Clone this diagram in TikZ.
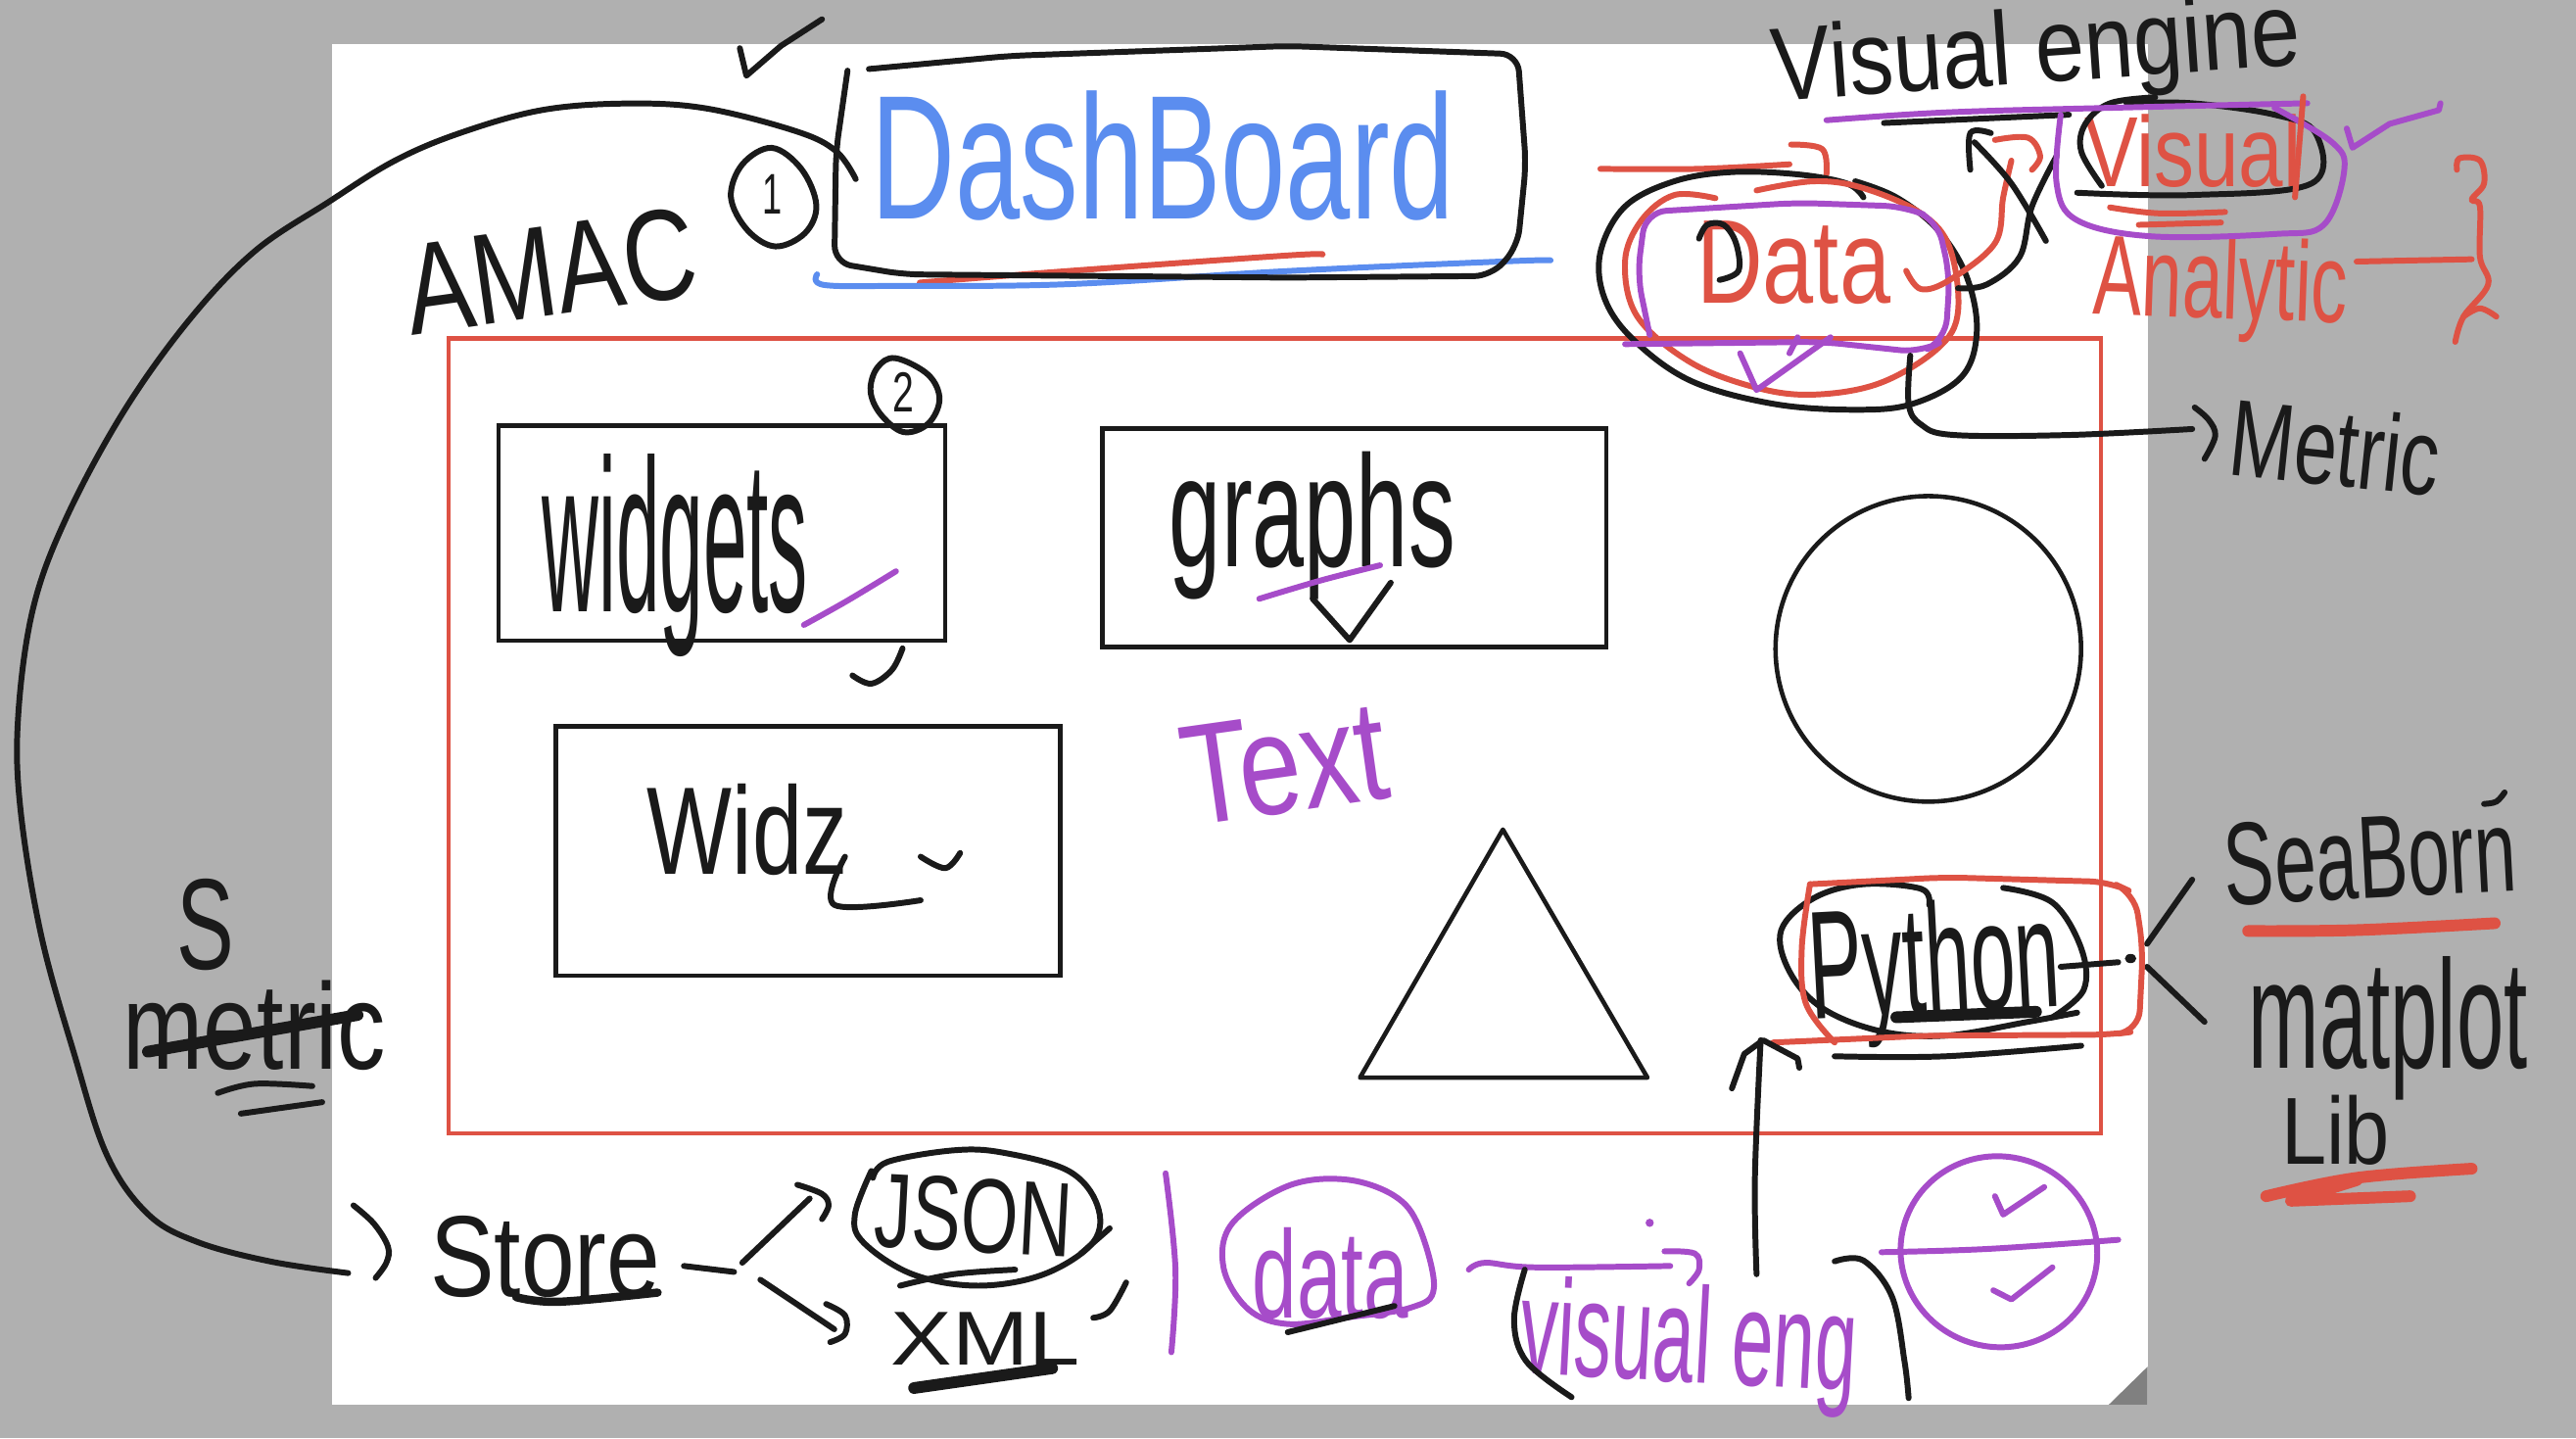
\documentclass[tikz,border=0pt]{standalone}
\usepackage{fontspec}
\setmainfont{Liberation Sans}
\definecolor{inkk}{HTML}{1A1A1A}
\definecolor{redd}{HTML}{DE5244}
\definecolor{purp}{HTML}{A64CC9}
\definecolor{blu}{HTML}{5B8DEF}
\definecolor{bgg}{HTML}{B0B0B0}
\definecolor{fold}{HTML}{808080}
\newlength\Un \setlength\Un{.016773cm}
\newcommand\hwfit[3]{\resizebox{#1\Un}{#2\Un}{#3}}
\newcommand\sk[2]{\draw[#1] plot[smooth,tension=.6] coordinates {#2};}
\newcommand\skc[2]{\draw[#1] plot[smooth cycle,tension=.6] coordinates {#2};}
\newcommand\pl[2]{\draw[#1] plot[sharp plot] coordinates {#2};}
\tikzset{
  base/.style={x=.016773cm,y=-.016773cm},
  q1/.style={x=.0083865cm,y=-.0046797cm},
  q2/.style={q1,xshift=13.15cm},
  q3/.style={q1,yshift=-7.34cm},
  q4/.style={q1,xshift=13.15cm,yshift=-7.34cm},
  pen/.style={line cap=round,line join=round,line width=1.7pt},
  bk/.style={pen,draw=inkk},
  rd/.style={pen,draw=redd},
  pu/.style={pen,draw=purp},
  bl/.style={pen,draw=blu},
  fat/.style={line width=3.4pt},
  box/.style={draw=inkk,line width=1.3pt,inner sep=0pt,fill=none},
  txt/.style={inner sep=0pt,text=#1},
}
\begin{document}
\begin{tikzpicture}
\useasboundingbox (0,0) rectangle (26.3,-14.68);
\fill[bgg] (0,0) rectangle (26.3,-14.68);
\begin{scope}[base]
\fill[white] (202,27) rectangle (1307.5,855);
\fill[fold] (1307.5,832) -- (1284,855) -- (1307.5,855) -- cycle;
% frames and shapes
\node[draw=redd,line width=1.3pt,inner sep=0pt,minimum width=1006\Un,minimum height=484\Un] (frame) at (776,448) {};
\node[box,minimum width=272\Un,minimum height=131\Un] (wbox) at (439.5,324.5) {};
\node[box,minimum width=307\Un,minimum height=133\Un] (gbox) at (824.5,327.5) {};
\node[box,minimum width=307\Un,minimum height=152\Un] (zbox) at (492,518) {};
\node[draw=inkk,line width=1.3pt,circle,inner sep=0pt,minimum size=186\Un] (circ) at (1174,395) {};
\coordinate (ta) at (915,505);
\coordinate (tb) at (828,656);
\coordinate (tc) at (1003,656);
\draw[draw=inkk,line width=1.3pt,line join=round] (ta) -- (tb) -- (tc) -- cycle;
% dashboard
\sk{rd}{(560,172)(650,165)(784,155.5)(805,155)}
\sk{bl}{(497.5,167)(502,173.5)(550,174)(650,173)(784,165)(919,159)(944,158.5)}
\node[txt=blu] (dash) at (708,95) {\hwfit{355}{78}{DashBoard}};
\draw[bk,rounded corners=5pt] (529,42) -- (615,34) -- (784,28) -- (924,33) -- (929,100) -- (924,150) -- (908,168) -- (784,169) -- (550,167) -- (508,160) -- (509,92) -- (516,43);
% long connector
\coordinate (dashIn) at (521,109);
\coordinate (storeOut) at (212,775);
\sk{bk}{(dashIn)(509,92)(485,80)(430,66)(382,63)(330,67)(280,81)(240,98)(200,123)(155,153)(115,195)(75,251)(40,316)(20,371)(11,437)(12.5,493)(25,569)(45,641)(65,703)(90,739)(120,756)(165,768)(storeOut)}
\node[txt=inkk,rotate=8] (amac) at (335,165) {\hwfit{178}{55}{AMAC}};
\skc{bk}{(470,90)(488,103)(497,125)(490,142)(472,150)(455,140)(445,120)(452,100)}
\node[txt=inkk] (one) at (470,118) {\hwfit{12}{24}{1}};
\skc{bk}{(545,218)(565,228)(572,243)(565,258)(550,263)(536,252)(530,238)(534,224)}
\node[txt=inkk] (two) at (550,239) {\hwfit{13}{24}{2}};
\node[txt=inkk] (widgets) at (411,338) {\hwfit{162}{96}{widgets}};
\node[txt=inkk] (graphs) at (799,320) {\hwfit{174}{70}{graphs}};
\node[txt=inkk] (widz) at (455,505) {\hwfit{122}{55}{Widz}};
\node[txt=purp,rotate=8] (text) at (782,465) {\hwfit{125}{60}{Text}};
\node[txt=redd] (data) at (1092,160) {\hwfit{118}{50}{Data}};
\node[txt=redd] (visual) at (1335,92) {\hwfit{132}{44}{Visual}};
\node[txt=redd,rotate=-2] (analytic) at (1352,176) {\hwfit{155}{50}{Analytic}};
\node[txt=inkk,rotate=4] (vengine) at (1240,34) {\hwfit{322}{46}{Visual engine}};
\node[txt=inkk,rotate=-6] (metric) at (1422,272) {\hwfit{128}{48}{Metric}};
\node[txt=inkk,rotate=3] (python) at (1178,592) {\hwfit{153}{68}{Python}};
\node[txt=inkk,rotate=3] (seaborn) at (1443,522) {\hwfit{178}{50}{SeaBorn}};
\node[txt=inkk] (matplot) at (1454,626) {\hwfit{170}{68}{matplot}};
\node[txt=inkk] (lib) at (1422,688) {\hwfit{66}{42}{Lib}};
\node[txt=inkk] (ess) at (125,563) {\hwfit{35}{55}{S}};
\node[txt=inkk] (metric2) at (155,624) {\hwfit{160}{54}{metric}};
\node[txt=inkk] (store) at (332,765) {\hwfit{140}{49}{Store}};
\node[txt=inkk,rotate=-3] (json) at (593,740) {\hwfit{120}{45}{JSON}};
\node[txt=inkk] (xml) at (600,815) {\hwfit{115}{32}{XML}};
\node[txt=purp] (datab) at (810,775) {\hwfit{95}{55}{data}};
\node[txt=purp,rotate=-3] (veng) at (1028,820) {\hwfit{205}{60}{visual eng}};
\skc{pu}{(784,722)(819,718)(849,728)(864,747)(873,784)(859,796)(820,802)(784,806)(760,797)(745,772)(750,745)}
\sk{bk}{(784,811)(849,795)}
\draw[pu,rotate around={75:(1217,762)}] (1217,762) ellipse (58 and 60);
\end{scope}
% top-left quadrant
\begin{scope}[q1]
\pl{bk}{(900,105)(908,165)(950,100)(1000,42)}
\sk{pu}{(978,1362)(1030,1310)(1090,1245)}
\sk{bk}{(1098,1413)(1085,1460)(1060,1490)(1037,1472)}
\end{scope}
% top-right quadrant
\begin{scope}[q2]
\sk{pu}{(-35,1305)(40,1265)(112,1232)}
\pl{bk}{(30,1305)(75,1395)(125,1270)}
\sk{rd}{(380,368)(500,368)(610,358)}
\sk{rd}{(612,315)(650,325)(655,380)}
\sk{bk}{(700,430)(680,400)(620,380)(540,375)(470,395)(410,450)(380,550)(385,650)(420,740)(490,830)(590,880)(690,893)(760,880)(820,820)(838,720)(825,600)(790,500)(740,430)(690,395)}
\sk{rd}{(520,432)(470,425)(430,480)(410,570)(425,690)(490,790)(570,845)(640,860)(720,835)(790,760)(815,680)(805,540)(770,465)(700,410)(640,395)(570,415)}
\sk{bk}{(500,520)(510,490)(530,490)(545,530)(548,590)(525,610)}
\draw[pu,rounded corners=6pt] (440,730) -- (425,600) -- (435,462) -- (620,442) -- (750,450) -- (790,480) -- (805,600) -- (800,740) -- (770,768) -- (650,745) -- (410,750);
\pl{pu}{(550,770)(570,850)(660,735)}
\pl{pu}{(620,735)(610,770)}
\sk{bk}{(757,775)(755,880)(770,925)(810,948)(950,948)(1100,935)}
\sk{bk}{(1103,888)(1120,915)(1128,950)(1115,1000)}
\sk{rd}{(752,590)(770,630)(805,610)(860,530)(870,430)(880,350)}
\sk{rd}{(860,305)(900,300)(915,340)(905,370)}
\sk{bk}{(815,628)(850,620)(890,560)(905,450)(935,340)}
\sk{bk}{(922,525)(880,400)(835,310)}
\sk{bk}{(830,370)(830,290)(855,290)}
\sk{bk}{(725,268)(950,250)}
\sk{bk}{(1055,212)(1000,225)(970,270)(965,330)(990,405)}
\sk{bk}{(1020,225)(1100,225)(1200,250)(1250,290)(1245,400)(1100,425)(960,420)}
\sk{pu}{(655,262)(800,245)(1000,235)(1240,225)}
\sk{pu}{(940,250)(935,400)(960,480)(1050,515)(1200,510)(1260,490)(1285,370)(1270,310)(1200,235)}
\pl{pu}{(1288,280)(1295,322)(1340,270)(1400,240)(1402,225)}
\sk{rd}{(1000,452)(1060,465)(1140,462)}
\sk{rd}{(1035,490)(1135,485)}
\sk{rd}{(1225,430)(1235,210)}
\sk{rd}{(1300,570)(1440,565)}
\sk{rd}{(1422,370)(1425,345)(1450,350)(1455,400)(1440,435)(1450,450)(1450,560)(1460,620)(1430,690)(1420,745)}
\sk{rd}{(1430,690)(1450,672)(1470,690)}
\end{scope}
% bottom-left quadrant
\begin{scope}[q3]
\sk{bk}{(1028,300)(1015,405)(1120,395)}
\sk{bk}{(1120,300)(1150,325)(1168,292)}
\sk{bk,fat}{(180,725)(435,645)}
\sk{bk}{(265,815)(310,795)(380,800)}
\sk{bk}{(293,860)(392,835)}
\sk{bk}{(430,1060)(455,1100)(472,1150)(470,1185)(457,1218)}
\sk{bk}{(832,1192)(893,1205)}
\sk{bk,line width=2.4pt}{(628,1260)(680,1270)(800,1250)}
\sk{bk}{(903,1185)(985,1045)}
\sk{bk}{(970,1015)(1000,1035)(1008,1060)(1000,1090)}
\sk{bk}{(925,1222)(1015,1330)}
\sk{bk}{(1005,1275)(1028,1300)(1028,1340)(1010,1358)}
\sk{bk}{(1060,985)(1040,1080)(1050,1140)(1110,1210)(1190,1235)(1270,1210)(1330,1140)(1335,1060)(1300,985)(1220,945)(1160,940)(1080,965)(1062,1000)}
\sk{bk}{(1095,1235)(1160,1210)(1235,1200)}
\sk{bk}{(1315,1165)(1350,1110)}
\sk{bk}{(1330,1305)(1350,1290)(1370,1228)}
\sk{bk,fat}{(1112,1458)(1280,1415)}
\sk{pu}{(1418,990)(1430,1200)(1425,1380)}
\end{scope}
% bottom-right quadrant
\begin{scope}[q4]
\sk{bk}{(780,405)(770,370)(700,360)(640,390)(600,460)(610,550)(650,630)(720,680)(800,690)(900,660)(960,640)}
\sk{bk}{(870,368)(930,400)(965,500)(968,590)(930,650)}
\sk{bk}{(940,540)(1010,530)}
\fill[inkk] (1025,522) ellipse (7 and 10);
\sk{bk}{(1045,490)(1100,350)}
\sk{bk}{(1045,540)(1115,660)}
\sk{bk,fat}{(740,650)(910,638)}
\sk{bk}{(665,735)(800,735)(965,712)}
\sk{rd}{(665,705)(630,620)(625,500)(635,360)}
\draw[rd,rounded corners=6pt] (635,360) -- (800,345) -- (1000,355) -- (1030,380) -- (1040,500) -- (1035,680) -- (1000,688) -- (780,690) -- (590,705);
\sk{bk}{(570,1210)(568,1000)(575,700)}
\pl{bk}{(540,805)(555,730)(578,700)(620,740)(622,760)}
\sk{rd,fat}{(1168,462)(1300,460)(1468,445)}
\sk{bk}{(1455,185)(1470,180)(1480,160)}
\sk{rd,fat}{(1190,1040)(1300,1000)(1440,980)}
\pl{rd,fat}{(1300,1005)(1220,1050)(1365,1040)}
\sk{pu}{(722,1162)(850,1155)(1010,1135)}
\pl{pu}{(860,1040)(870,1080)(920,1020)}
\pl{pu}{(858,1245)(880,1265)(930,1195)}
\sk{pu}{(220,1200)(240,1185)(300,1195)(465,1192)}
\sk{pu}{(458,1160)(495,1165)(500,1200)(488,1230)}
\fill[purp] (440,1098) ellipse (5 and 9);
\sk{bk}{(288,1200)(275,1310)(290,1400)(345,1478)}
\sk{bk}{(665,1182)(700,1180)(735,1260)(750,1400)(755,1480)}
\end{scope}
\end{tikzpicture}
\end{document}
